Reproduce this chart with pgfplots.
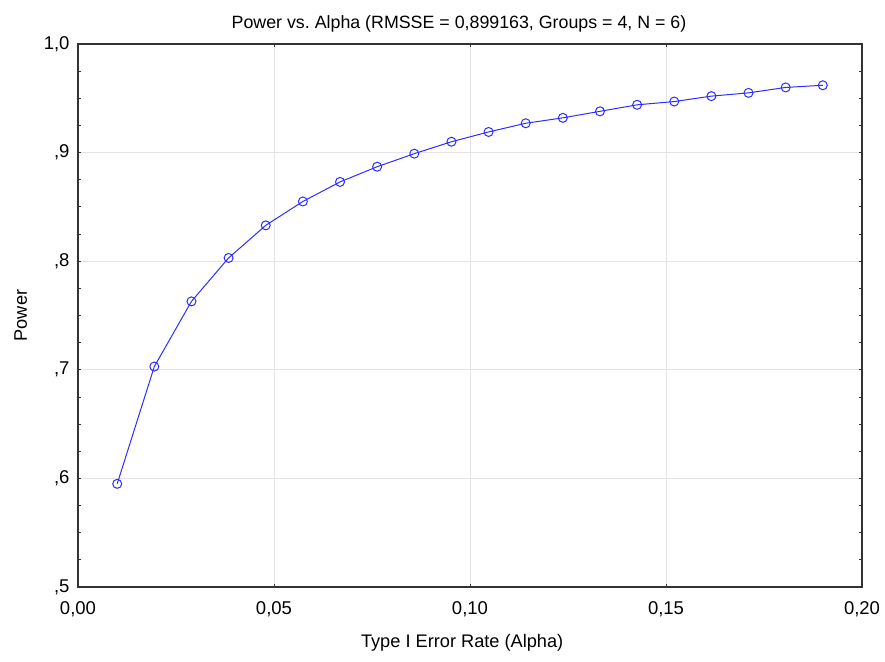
\documentclass[border=0pt]{standalone}
\usepackage{pgfplots}
\pgfplotsset{compat=1.18}
\usepackage{fontspec}
\setmainfont{Liberation Sans}
\frenchspacing
\definecolor{pblue}{RGB}{45,45,255}
\definecolor{gridc}{RGB}{228,228,228}
\definecolor{axc}{RGB}{50,50,50}
\begin{document}
\begin{tikzpicture}
\begin{axis}[
  name=ax,
  scale only axis=true,
  width=784bp, height=543bp,
  xmin=0, xmax=0.2, ymin=0.5, ymax=1.0,
  xtick={0,0.05,0.1,0.15,0.2},
  xticklabels={{0,00},{0,05},{0,10},{0,15},{0,20}},
  ytick={0.5,0.6,0.7,0.8,0.9,1.0},
  yticklabels={{,5},{,6},{,7},{,8},{,9},{1,0}},
  minor y tick num=3,
  tick align=inside,
  major tick length=3bp, minor tick length=3bp,
  tick style={axc, line width=0.8bp},
  grid=major,
  major grid style={gridc, line width=0.8bp},
  axis line style={axc, line width=1.3bp},
  tick label style={font=\fontsize{18.5bp}{21bp}\selectfont, black},
  xticklabel style={yshift=-11bp},
  yticklabel style={xshift=-5bp},
  xlabel={Type I Error Rate (Alpha)},
  ylabel={Power},
  label style={font=\fontsize{18.2bp}{21bp}\selectfont},
  xlabel style={at={(rel axis cs:0.49,0)}, anchor=base, yshift=-60bp},
  ylabel style={at={(rel axis cs:0,0.5)}, anchor=base, rotate=0, yshift=51bp},
  title={Power vs. Alpha (RMSSE = 0,899163, Groups = 4, N = 6)},
  title style={font=\fontsize{17.8bp}{20bp}\selectfont, at={(rel axis cs:0.486,1)}, anchor=base, yshift=10bp},
  clip=false,
]
\addplot[pblue, line width=1bp, mark=o, mark size=4.5bp, mark options={line width=1bp}] coordinates {
(0.010000,0.595)
(0.019474,0.703)
(0.028947,0.763)
(0.038421,0.803)
(0.047895,0.833)
(0.057368,0.855)
(0.066842,0.873)
(0.076316,0.887)
(0.085789,0.899)
(0.095263,0.910)
(0.104737,0.919)
(0.114211,0.927)
(0.123684,0.932)
(0.133158,0.938)
(0.142632,0.944)
(0.152105,0.947)
(0.161579,0.952)
(0.171053,0.955)
(0.180526,0.960)
(0.190000,0.962)
};
\end{axis}
\path ([shift={(-78bp,-75bp)}]ax.south west) rectangle ([shift={(23bp,44bp)}]ax.north east);
\end{tikzpicture}
\end{document}
